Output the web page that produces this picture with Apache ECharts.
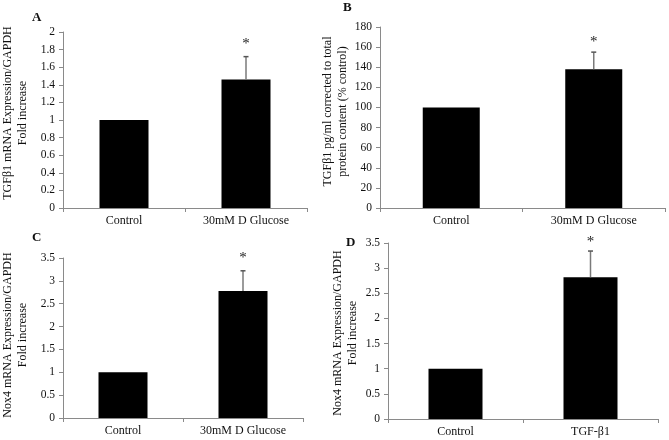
<!DOCTYPE html>
<html>
<head>
<meta charset="utf-8">
<script src="https://cdn.jsdelivr.net/npm/echarts@6/dist/echarts.min.js"></script>
<style>html,body{margin:0;padding:0;background:#fff}#c{width:669px;height:440px}</style>
</head>
<body>
<div id="c"></div>
<script>
// Data
const catsA = ['Control', '30mM D Glucose'];
const valsA = [1, 1.46];
const errA = [0, 0.26];
const ticksA = {min: 0, max: 2, interval: 0.2};

const catsB = ['Control', '30mM D Glucose'];
const valsB = [100, 138];
const errB = [0, 17];
const ticksB = {min: 0, max: 180, interval: 20};

const catsC = ['Control', '30mM D Glucose'];
const valsC = [1, 2.78];
const errC = [0, 0.44];
const ticksC = {min: 0, max: 3.5, interval: 0.5};

const catsD = ['Control', 'TGF-β1'];
const valsD = [1, 2.82];
const errD = [0, 0.52];
const ticksD = {min: 0, max: 3.5, interval: 0.5};

const namesY = [
  'TGFβ1 mRNA Expression/GAPDH\nFold increase',
  'TGFβ1 pg/ml corrected to total\nprotein content (% control)',
  'Nox4 mRNA Expression/GAPDH\nFold increase',
  'Nox4 mRNA Expression/GAPDH\nFold increase'
];
const panelLetters = ['A', 'B', 'C', 'D'];

const FONT = 'Liberation Serif';
const panels = [
  {cats: catsA, vals: valsA, err: errA, ticks: ticksA, grid: {left: 63, top: 32, width: 244, height: 176}, gap: 33, shift: 14, bw: 49, star: 13, letter: [37, 18]},
  {cats: catsB, vals: valsB, err: errB, ticks: ticksB, grid: {left: 380, top: 27, width: 285, height: 181}, gap: 30, shift: 12, bw: 57, star: 10, letter: [348, 8]},
  {cats: catsC, vals: valsC, err: errC, ticks: ticksC, grid: {left: 63, top: 258, width: 240, height: 160}, gap: 33, shift: 6, bw: 49, star: 13, letter: [37, 238]},
  {cats: catsD, vals: valsD, err: errD, ticks: ticksD, grid: {left: 388, top: 243, width: 270, height: 176}, gap: 28, shift: -4, bw: 54, star: 9, letter: [351, 243]}
];

const grid = [], xAxis = [], yAxis = [], series = [], graphic = [];
panels.forEach((p, i) => {
  grid.push(p.grid);
  xAxis.push({
    type: 'category', gridIndex: i, data: p.cats,
    axisLine: {lineStyle: {color: '#8a8a8a', width: 1}},
    axisTick: {show: true, length: 4, lineStyle: {color: '#8a8a8a'}},
    axisLabel: {fontFamily: FONT, fontSize: 12, color: '#111', margin: 7}
  });
  yAxis.push({
    type: 'value', gridIndex: i, min: p.ticks.min, max: p.ticks.max, interval: p.ticks.interval,
    splitLine: {show: false},
    axisLine: {show: true, lineStyle: {color: '#8a8a8a', width: 1}},
    axisTick: {show: true, length: 4, lineStyle: {color: '#8a8a8a'}},
    axisLabel: {fontFamily: FONT, fontSize: 11.5, color: '#111', margin: 8},
    name: namesY[i], nameLocation: 'middle', nameRotate: 90, nameGap: p.gap,
    nameTextStyle: {fontFamily: FONT, fontSize: 12, color: '#111', lineHeight: 14.5, padding: p.shift >= 0 ? [0, 0, 0, p.shift] : [0, -p.shift, 0, 0]}
  });
  series.push({
    type: 'bar', xAxisIndex: i, yAxisIndex: i, data: p.vals, barWidth: p.bw,
    itemStyle: {color: '#000'}, silent: true
  });
  series.push({
    type: 'custom', xAxisIndex: i, yAxisIndex: i, z: 5, silent: true,
    data: p.vals.map((v, k) => [k, v, p.err[k]]),
    renderItem: (params, api) => {
      const e = api.value(2);
      if (!e) return null;
      const base = api.coord([api.value(0), api.value(1)]);
      const top = api.coord([api.value(0), api.value(1) + e]);
      return {
        type: 'group',
        children: [
          {type: 'line', shape: {x1: base[0], y1: base[1], x2: top[0], y2: top[1]}, style: {stroke: '#7a7a7a', lineWidth: 1.5}},
          {type: 'line', shape: {x1: top[0] - 2.5, y1: top[1], x2: top[0] + 2.5, y2: top[1]}, style: {stroke: '#555', lineWidth: 1.5}},
          {type: 'text', x: top[0], y: top[1] - p.star, style: {text: '*', fontFamily: FONT, fontSize: 15, fill: '#222', align: 'center', verticalAlign: 'middle'}}
        ]
      };
    }
  });
  graphic.push({
    type: 'text', left: p.letter[0] - 5, top: p.letter[1] - 7,
    style: {text: panelLetters[i], fontFamily: FONT, fontSize: 13, fontWeight: 'bold', fill: '#111'}
  });
});

const chart = echarts.init(document.getElementById('c'), null, {renderer: 'canvas'});
chart.setOption({animation: false, backgroundColor: '#fff', grid, xAxis, yAxis, series, graphic});
</script>
</body>
</html>
